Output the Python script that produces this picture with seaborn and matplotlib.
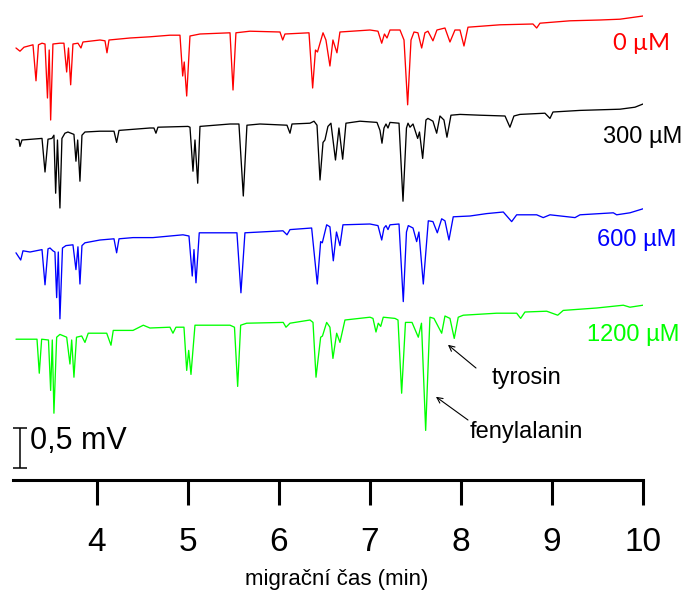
import numpy as np
import pandas as pd
import matplotlib
matplotlib.use("Agg")
import matplotlib.pyplot as plt
import seaborn as sns

# electropherograms: time (min) and signal (mV)
red_time = [3.110, 3.154, 3.198, 3.297, 3.330, 3.357, 3.396, 3.429, 3.456, 3.475, 3.491, 3.516,
            3.593, 3.637, 3.667, 3.687, 3.711, 3.736, 3.791, 3.824, 3.846, 4.033, 4.088, 4.110,
            4.132, 4.363, 4.582, 4.802, 4.912, 4.942, 4.959, 4.986, 5.022, 5.132, 5.462, 5.495,
            5.527, 5.681, 6.011, 6.041, 6.066, 6.330, 6.370, 6.401, 6.423, 6.484, 6.516, 6.560,
            6.593, 6.637, 6.670, 7.000, 7.088, 7.129, 7.159, 7.187, 7.220, 7.330, 7.374, 7.414,
            7.451, 7.484, 7.527, 7.568, 7.604, 7.637, 7.692, 7.736, 7.824, 7.879, 7.934, 7.989,
            8.033, 8.077, 8.429, 8.791, 8.832, 8.868, 9.198, 9.527, 9.747, 10.000]
red_signal = [0, -0.04, 0.01, 0.04, -0.41, 0.04, 0.06, 0.05, -0.625, -0.025, -0.90, 0.05,
              0.06, 0.06, -0.30, 0, -0.46, 0.05, 0.06, 0, 0.075, 0.10, 0.09, -0.06,
              0.10, 0.125, 0.14, 0.16, 0.16, -0.35, -0.175, -0.60, 0.15, 0.175, 0.19, -0.525,
              0.19, 0.21, 0.20, 0.10, 0.175, 0.19, -0.50, -0.025, -0.05, 0.19, 0.10, -0.225,
              0.10, -0.06, 0.20, 0.225, 0.21, 0.06, 0.175, 0.125, 0.225, 0.225, 0.10, -0.71,
              0.10, 0.20, 0.19, 0, 0.19, 0.21, 0.09, 0.225, 0.25, 0.075, 0.225, 0.225,
              0.025, 0.26, 0.29, 0.30, 0.25, 0.31, 0.34, 0.35, 0.36, 0.40]

black_time = [3.110, 3.143, 3.154, 3.176, 3.396, 3.429, 3.462, 3.505, 3.527, 3.546, 3.566, 3.593,
              3.615, 3.648, 3.681, 3.747, 3.769, 3.788, 3.813, 3.835, 3.868, 4.033, 4.187, 4.216,
              4.242, 4.582, 4.626, 4.648, 4.670, 5.000, 5.022, 5.055, 5.077, 5.107, 5.132, 5.462,
              5.560, 5.608, 5.648, 5.791, 6.088, 6.121, 6.143, 6.341, 6.385, 6.418, 6.451, 6.484,
              6.505, 6.538, 6.571, 6.621, 6.659, 6.700, 6.736, 6.890, 7.077, 7.110, 7.132, 7.154,
              7.176, 7.198, 7.220, 7.319, 7.363, 7.401, 7.418, 7.440, 7.473, 7.524, 7.544, 7.579,
              7.615, 7.637, 7.692, 7.733, 7.769, 7.813, 7.846, 7.890, 7.989, 8.209, 8.484, 8.538,
              8.582, 8.648, 8.923, 8.978, 9.011, 9.308, 9.747, 9.912, 10.000]
black_signal = [0, -0.01, -0.09, -0.01, 0.01, -0.41, 0, 0.01, 0.05, -0.675, -0.01, -0.86,
                0.01, 0.075, 0.09, 0.06, -0.275, -0.01, -0.525, 0.05, 0.09, 0.10, 0.10, -0.04,
                0.11, 0.14, 0.14, 0.075, 0.15, 0.16, 0.15, -0.40, -0.01, -0.55, 0.16, 0.19,
                0.19, -0.71, 0.175, 0.19, 0.175, 0.075, 0.19, 0.20, 0.225, 0.175, -0.51, -0.04,
                -0.01, 0.16, 0.20, -0.26, 0.14, -0.25, 0.20, 0.225, 0.21, 0.11, -0.05, 0.14,
                0.19, 0.14, 0.21, 0.20, -0.775, 0.14, 0.20, 0.15, 0.19, 0.01, 0.09, -0.24,
                0.24, 0.26, 0.225, 0.075, 0.29, 0.24, 0.025, 0.30, 0.31, 0.30, 0.29, 0.15,
                0.29, 0.31, 0.325, 0.26, 0.34, 0.36, 0.375, 0.40, 0.44]

blue_time = [3.110, 3.162, 3.187, 3.264, 3.396, 3.429, 3.462, 3.484, 3.516, 3.538, 3.557, 3.575,
             3.593, 3.621, 3.659, 3.736, 3.769, 3.791, 3.813, 3.835, 3.868, 4.033, 4.187, 4.216,
             4.242, 4.396, 4.615, 4.945, 5.011, 5.047, 5.066, 5.088, 5.124, 5.538, 5.582, 5.626,
             6.044, 6.088, 6.121, 6.359, 6.421, 6.458, 6.476, 6.524, 6.560, 6.597, 6.632, 6.670,
             6.703, 7.000, 7.088, 7.129, 7.154, 7.176, 7.198, 7.220, 7.319, 7.366, 7.401, 7.421,
             7.473, 7.513, 7.538, 7.586, 7.641, 7.692, 7.740, 7.788, 7.824, 7.868, 7.915, 8.099,
             8.282, 8.465, 8.557, 8.612, 8.832, 8.904, 8.978, 9.253, 9.308, 9.674, 9.711, 9.857,
             10.000]
blue_signal = [0, -0.09, 0.025, 0.01, 0.04, -0.40, 0.05, 0.06, 0.025, 0.01, -0.56, 0.01,
               -0.825, 0.06, 0.09, 0.10, -0.21, 0.075, -0.39, 0.09, 0.125, 0.16, 0.175, 0,
               0.175, 0.19, 0.19, 0.225, 0.21, -0.29, 0.04, -0.375, 0.25, 0.25, -0.50, 0.25,
               0.275, 0.225, 0.29, 0.31, -0.39, 0.14, 0.125, 0.35, 0.325, -0.10, 0.26, 0.09,
               0.35, 0.36, 0.34, 0.16, 0.31, 0.34, 0.29, 0.35, 0.36, -0.61, 0.26, 0.34,
               0.31, 0.14, 0.26, -0.39, 0.40, 0.39, 0.25, 0.425, 0.40, 0.16, 0.45, 0.46,
               0.49, 0.51, 0.39, 0.475, 0.475, 0.44, 0.475, 0.44, 0.475, 0.50, 0.475, 0.50,
               0.55]

green_time = [3.110, 3.297, 3.341, 3.366, 3.392, 3.467, 3.491, 3.509, 3.527, 3.557, 3.593, 3.667,
              3.703, 3.722, 3.747, 3.775, 3.832, 3.868, 3.904, 4.107, 4.154, 4.179, 4.396, 4.509,
              4.582, 4.802, 4.835, 4.868, 4.956, 4.986, 5.008, 5.033, 5.077, 5.462, 5.511, 5.546,
              5.579, 5.645, 6.047, 6.077, 6.121, 6.341, 6.374, 6.407, 6.458, 6.478, 6.524, 6.560,
              6.593, 6.634, 6.670, 6.725, 7.000, 7.033, 7.066, 7.091, 7.118, 7.146, 7.275, 7.308,
              7.348, 7.390, 7.462, 7.531, 7.566, 7.612, 7.659, 7.703, 7.788, 7.824, 7.879, 7.926,
              7.970, 8.025, 8.392, 8.612, 8.656, 8.703, 8.942, 9.063, 9.124, 9.491, 9.784, 9.857,
              10.000]
green_signal = [0, 0, 0, -0.425, 0, -0.01, -0.64, -0.01, -0.925, 0.025, 0.06, 0.025,
                -0.31, -0.01, -0.475, 0.025, 0.04, -0.04, 0.075, 0.075, -0.075, 0.11, 0.11, 0.175,
                0.14, 0.15, 0.075, 0.15, 0.15, -0.39, -0.14, -0.44, 0.175, 0.175, 0.15, -0.59,
                0.175, 0.20, 0.21, 0.15, 0.20, 0.24, 0.21, -0.475, 0.025, 0.04, 0.21, 0.15,
                -0.24, 0.075, -0.04, 0.24, 0.275, 0.26, 0.09, 0.20, 0.16, 0.275, 0.26, 0.24,
                -0.675, 0.21, 0.21, 0.025, 0.20, -1.14, 0.275, 0.26, 0.075, 0.29, 0.26, 0.01,
                0.275, 0.30, 0.325, 0.325, 0.26, 0.34, 0.35, 0.30, 0.36, 0.39, 0.425, 0.40,
                0.425]

trace_names = ["0 µM", "300 µM", "600 µM", "1200 µM"]
trace_offsets = [5.40, 4.26, 2.84, 1.76]
trace_colors = ["#ff0000", "#000000", "#0000ff", "#00ff00"]
label_x = [9.67, 9.56, 9.495, 9.385]
label_y = [5.46, 4.29, 3.00, 1.81]

sns.set_style("white")
plt.rcParams["font.family"] = ["Liberation Sans", "DejaVu Sans"]
plt.rcParams["text.color"] = "black"
plt.rcParams["axes.labelcolor"] = "black"

frames = []
for name, t, s, off in zip(trace_names,
                           [red_time, black_time, blue_time, green_time],
                           [red_signal, black_signal, blue_signal, green_signal],
                           trace_offsets):
    frames.append(pd.DataFrame({"time": t, "signal": np.array(s) + off, "trace": name}))
df = pd.concat(frames, ignore_index=True)

fig = plt.figure(figsize=(6.83, 5.91), dpi=100)
ax = fig.add_axes([0.019, 0.1878, 0.9224, 0.8122])

sns.lineplot(data=df, x="time", y="signal", hue="trace", hue_order=trace_names,
             palette=trace_colors, estimator=None, sort=False, legend=False,
             linewidth=0.95, ax=ax)

# concentration labels
for name, c, x, y in zip(trace_names, trace_colors, label_x, label_y):
    fam = ["Lato", "DejaVu Sans"] if name == "0 µM" else ["Liberation Sans", "DejaVu Sans"]
    ax.text(x, y, name, color=c, fontsize=17, ha="left", va="center",
            family=fam, clip_on=False)

# peak annotations
ax.annotate("", xy=(7.857, 1.69), xytext=(8.165, 1.40),
            arrowprops=dict(arrowstyle="->", color="black", lw=0.8, shrinkA=0, shrinkB=0))
ax.text(8.725, 1.275, "tyrosin", fontsize=17, ha="center", va="center", color="black")
ax.annotate("", xy=(7.725, 1.04), xytext=(8.077, 0.75),
            arrowprops=dict(arrowstyle="->", color="black", lw=0.8, shrinkA=0, shrinkB=0))
ax.text(8.099, 0.60, "fenylalanin", fontsize=17, ha="left", va="center", color="black")

# scale bar 0,5 mV
ax.errorbar([3.154], [0.40], yerr=[0.25], color="black", capsize=5, elinewidth=1.1,
            capthick=1.1, clip_on=False)
ax.text(3.264, 0.49, "0,5 mV", fontsize=22, ha="left", va="center", color="black")

ax.set_xlim(3.077, 10.0)
ax.set_ylim(0, 6.0)
ax.set_xticks([4, 5, 6, 7, 8, 9, 10])
ax.set_yticks([])
for side in ["top", "right", "left"]:
    ax.spines[side].set_visible(False)
ax.spines["bottom"].set_linewidth(2.2)
ax.spines["bottom"].set_color("black")
ax.tick_params(axis="x", direction="out", length=18, width=2.2, pad=16,
               labelsize=24, bottom=True, colors="black")
ax.set_xlabel("migrační čas (min)", fontsize=16, color="black")
ax.xaxis.set_label_coords(0.514, -0.185)
ax.set_ylabel("")
ax.patch.set_alpha(0)

fig.savefig("out.png", dpi=100)
